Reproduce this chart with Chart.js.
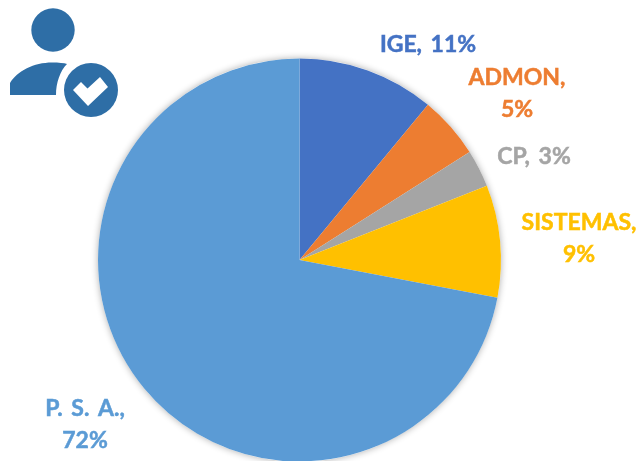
<!DOCTYPE html>
<html><head><meta charset="utf-8">
<script src="https://cdn.jsdelivr.net/npm/chart.js@4"></script>
<style>
html,body{margin:0;padding:0;background:#fff;overflow:hidden;width:636px;height:461px}
#wrap{position:relative;width:636px;height:461px;overflow:hidden}
#box{position:absolute;left:0;top:0;width:636px;height:480px}
#icon{position:absolute;left:10px;top:8px;width:108px;height:110px}
</style></head><body>
<div id="wrap">
<div id="box"><canvas id="c"></canvas></div>
<svg id="icon" viewBox="10 8 108 110" xmlns="http://www.w3.org/2000/svg">
<circle cx="53" cy="30" r="21.7" fill="#2E6EA6"/>
<path d="M10 95 L10 83 C17 71 34 62.500 52 62.500 C59 62.500 64 63 67 64 C60 71 56 83 56 95 Z" fill="#2E6EA6"/>
<circle cx="91" cy="90" r="27" fill="#2E6EA6"/>
<path d="M73 90 L81 82 L87.500 88.500 L100 77 L108 87 L88 106 Z" fill="#fff"/>
</svg>
</div>
<script>
const categories = ["IGE", "ADMON", "CP", "SISTEMAS", "P. S. A."];
const shareValues = [11, 5, 3, 9, 72];
const sliceColors = ["#4472C4", "#ED7D31", "#A5A5A5", "#FFC000", "#5B9BD5"];
const labelLines = [["IGE, 11%"], ["ADMON,", "5%"], ["CP, 3%"], ["SISTEMAS,", "9%"], ["P. S. A.,", "72%"]];
const labelCenters = [[428, 44], [517, 77], [534, 156], [579, 222], [85, 408]];
const lineGap = 32;

const pieShadow = {
  id: "pieShadow",
  beforeDatasetsDraw(chart) {
    const a = chart.getDatasetMeta(0).data[0];
    if (!a) return;
    const ctx = chart.ctx;
    ctx.save();
    ctx.shadowColor = "rgba(0,0,0,0.32)";
    ctx.shadowBlur = 7;
    ctx.fillStyle = "#fff";
    ctx.beginPath();
    ctx.arc(a.x, a.y, a.outerRadius, 0, Math.PI * 2);
    ctx.fill();
    ctx.restore();
  }
};
const sliceLabels = {
  id: "sliceLabels",
  afterDatasetsDraw(chart) {
    const ctx = chart.ctx;
    ctx.save();
    ctx.font = "bold 23px Lato, sans-serif";
    ctx.wordSpacing = "3px";
    ctx.textAlign = "center";
    ctx.textBaseline = "alphabetic";
    ctx.lineWidth = 0.5;
    labelLines.forEach((lines, i) => {
      ctx.fillStyle = sliceColors[i];
      ctx.strokeStyle = sliceColors[i];
      lines.forEach((t, j) => {
        const x = labelCenters[i][0], y = labelCenters[i][1] + j * lineGap + 8;
        ctx.fillText(t, x, y);
        ctx.strokeText(t, x, y);
      });
    });
    ctx.restore();
  }
};
new Chart(document.getElementById("c"), {
  type: "pie",
  data: { labels: categories, datasets: [{ data: shareValues, backgroundColor: sliceColors, borderWidth: 0, hoverOffset: 0 }] },
  options: {
    responsive: true, maintainAspectRatio: false, animation: false,
    layout: { padding: { left: 98, right: 135, top: 58, bottom: 18 } },
    plugins: { legend: { display: false }, tooltip: { enabled: false }, title: { display: false } }
  },
  plugins: [pieShadow, sliceLabels]
});
</script>
</body></html>
